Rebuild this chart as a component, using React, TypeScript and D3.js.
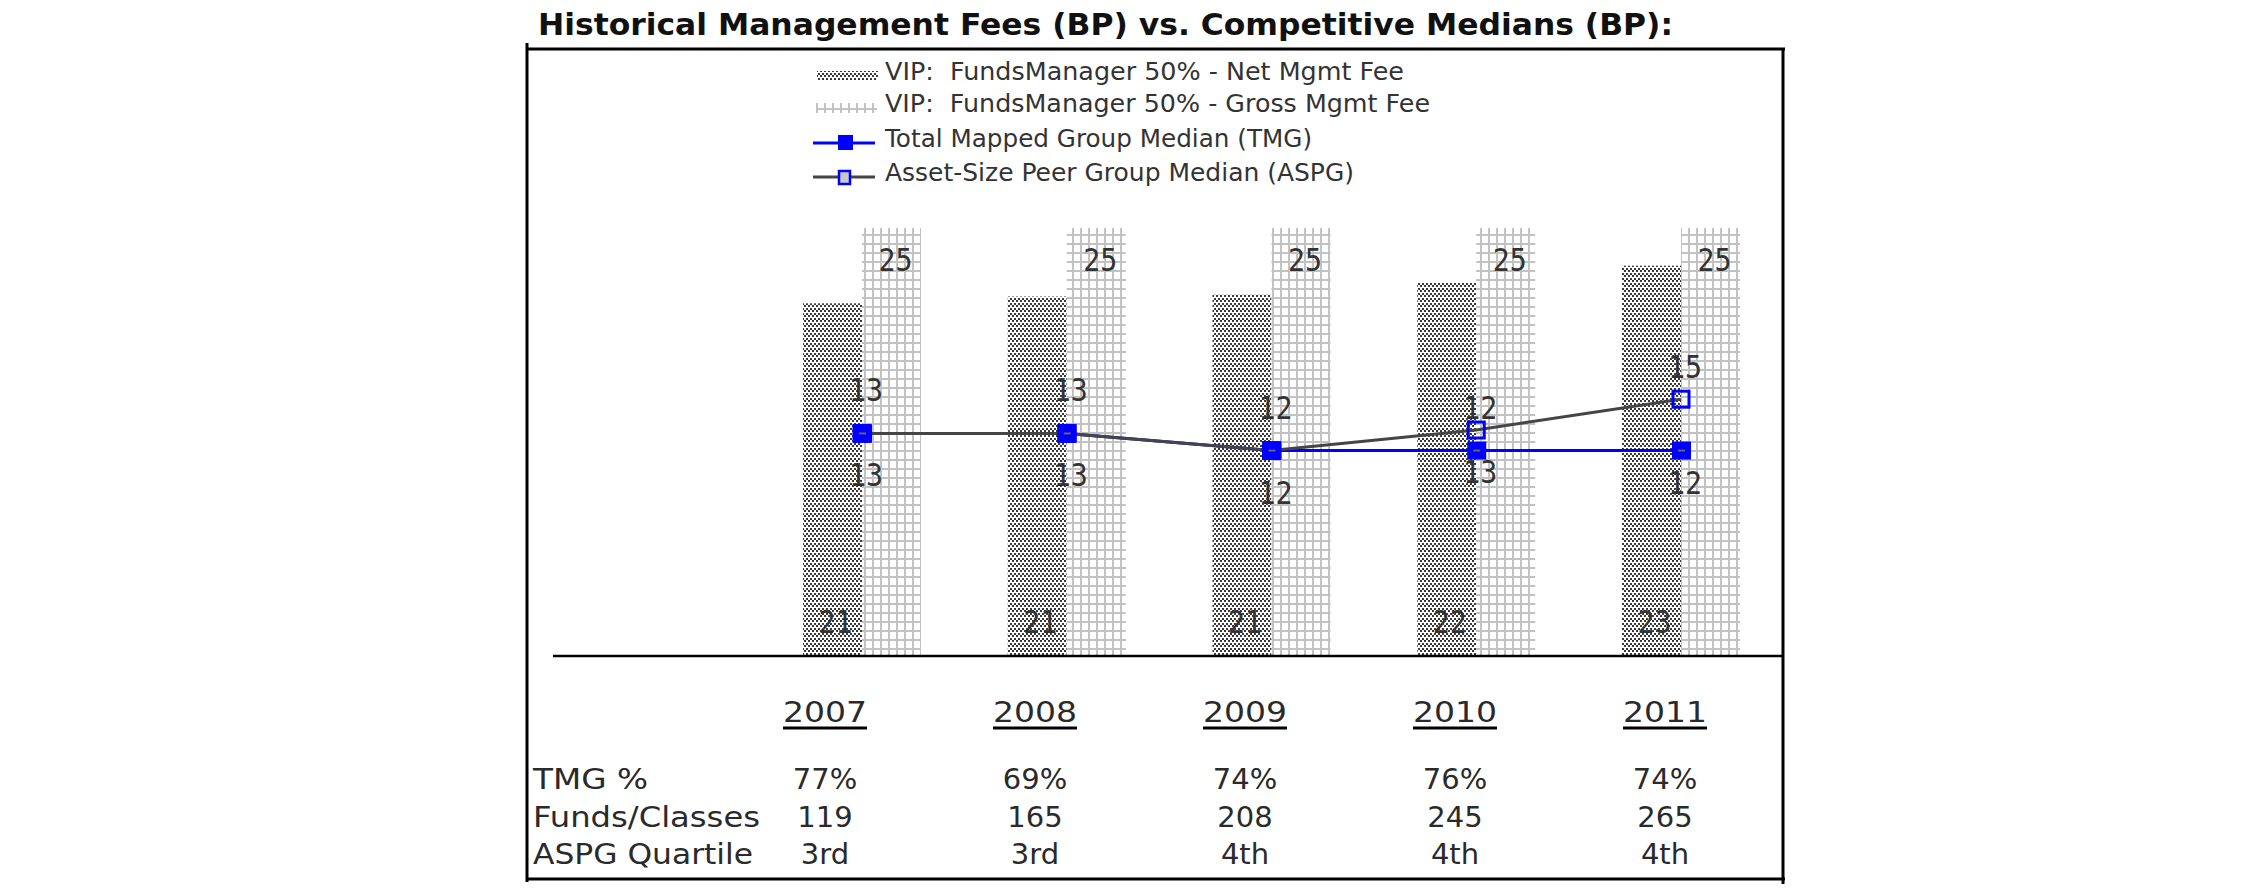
import React from 'react';
import * as d3 from 'd3';

// ---------- data ----------
const years = ['2007', '2008', '2009', '2010', '2011'];
const netFee = [20.6, 21.0, 21.1, 21.8, 22.8];
const grossFee = [25, 25, 25, 25, 25];
const tmgMedian = [13, 13, 12, 12, 12];
const aspgMedian = [13, 13, 12, 13.2, 15];
const tmgPct = ['77%', '69%', '74%', '76%', '74%'];
const fundsClasses = ['119', '165', '208', '245', '265'];
const aspgQuartile = ['3rd', '3rd', '4th', '4th', '4th'];
const rowLabels = ['TMG %', 'Funds/Classes', 'ASPG Quartile'];
const legendLabels = [
  'VIP:  FundsManager 50% - Net Mgmt Fee',
  'VIP:  FundsManager 50% - Gross Mgmt Fee',
  'Total Mapped Group Median (TMG)',
  'Asset-Size Peer Group Median (ASPG)',
];
const title = 'Historical Management Fees (BP) vs. Competitive Medians (BP):';

// ---------- layout ----------
const W = 2250;
const H = 895;
const frame = { left: 527, top: 49, right: 1783, bottom: 879 };
const axisY = 656;
const axisX0 = 553;

const TXT = '#2a2a2a';
const BLUE = '#0000ff';
const GRAY_LINE = '#454545';

type TP = {
  x: number; y: number; size: number; w?: number; anchor?: string; weight?: string;
  family?: string; fill?: string; children: React.ReactNode;
};
const T = ({ x, y, size, w, anchor = 'start', weight = 'normal', family = 'DejaVu Sans', fill = TXT, children }: TP) => (
  <text
    x={x}
    y={y}
    fontSize={size}
    fontFamily={family}
    fontWeight={weight}
    fill={fill}
    textAnchor={anchor}
    textLength={w}
    lengthAdjust={w ? 'spacingAndGlyphs' : undefined}
    style={{ whiteSpace: 'pre' }}
  >
    {children}
  </text>
);

export default function App() {
  const x = d3.scaleBand<string>().domain(years).range([803, 1740]).paddingInner(0.4237).paddingOuter(0);
  const sub = d3.scaleBand<string>().domain(['net', 'gross']).range([0, x.bandwidth()]);
  const y = d3.scaleLinear().domain([0, 25]).range([axisY, 228]);
  const col = d3.scalePoint<string>().domain(years).range([825, 1665]);

  const cx = (i: number) => (x(years[i]) as number) + x.bandwidth() / 2;
  const lineGen = d3
    .line<number>()
    .x((_, i) => cx(i))
    .y((d) => y(d));

  const labelFont = 'DejaVu Sans Mono';
  const lblSize = 32;
  const digitW = (s: string) => s.length * 17;

  const lineLabels: { text: string; x: number; y: number }[] = [];
  years.forEach((_, i) => {
    const t = tmgMedian[i];
    const a = aspgMedian[i];
    if (a - t > 2) {
      lineLabels.push({ text: String(Math.round(a)), x: cx(i) + 4, y: y(a) - 21 });
      lineLabels.push({ text: String(Math.round(t)), x: cx(i) + 4, y: y(t) + 43 });
    } else {
      lineLabels.push({ text: String(Math.round(t)), x: cx(i) + 4, y: y(t) - 32 });
      lineLabels.push({ text: String(Math.round(a)), x: cx(i) + 4, y: y(a) + 53 });
    }
  });

  const rowBaselines = [789, 827, 864];
  const rowData = [tmgPct, fundsClasses, aspgQuartile];
  const rowLabelW = [115, 227, 220];

  const legendX = 885;
  const legendBase = [80, 112, 147, 181];
  const legendW = [519, 545, 427, 469];

  return (
    <svg
      width={W}
      height={H}
      style={{ position: 'absolute', left: 0, top: 0, background: '#fff' }}
    >
      <defs>
        <pattern id="netPat" patternUnits="userSpaceOnUse" width={4} height={5}>
          <rect width={4} height={5} fill="#ffffff" />
          <rect x={0} y={0} width={2} height={2} fill="#3a3a3a" />
          <rect x={2} y={3} width={2} height={2} fill="#3a3a3a" />
        </pattern>
        <pattern id="grossPat" patternUnits="userSpaceOnUse" width={8} height={9}>
          <rect width={8} height={9} fill="#ffffff" />
          <rect x={0} y={0} width={2} height={9} fill="#c2c2c2" />
          <rect x={0} y={0} width={8} height={2} fill="#c2c2c2" />
        </pattern>
      </defs>
      <rect width={W} height={H} fill="#fff" />

      {/* title */}
      <T x={538} y={35} size={31} w={1135} weight="bold" fill="#111">{title}</T>

      {/* frame */}
      <g stroke="#000" strokeWidth={3} fill="none">
        <line x1={frame.left} y1={43} x2={frame.left} y2={frame.bottom + 3} />
        <line x1={frame.left} y1={frame.top} x2={frame.right + 2} y2={frame.top} />
        <line x1={frame.right} y1={frame.top} x2={frame.right} y2={frame.bottom + 5} />
        <line x1={frame.left} y1={frame.bottom} x2={frame.right + 2} y2={frame.bottom} />
      </g>

      {/* legend */}
      <rect x={817} y={71} width={61} height={9} fill="url(#netPat)" />
      <rect x={816} y={103} width={61} height={10} fill="url(#grossPat)" />
      <line x1={813} y1={143} x2={875} y2={143} stroke={BLUE} strokeWidth={3} />
      <rect x={838} y={135} width={15} height={15} fill={BLUE} />
      <line x1={813} y1={177} x2={875} y2={177} stroke={GRAY_LINE} strokeWidth={3} />
      <rect x={839} y={171} width={11} height={13} fill="#c8c8c8" stroke={BLUE} strokeWidth={2.5} />
      {legendLabels.map((l, i) => (
        <T key={l} x={legendX} y={legendBase[i]} size={24} w={legendW[i]} fill="#333">{l}</T>
      ))}

      {/* bars */}
      {years.map((yr, i) => (
        <g key={yr}>
          <rect
            x={(x(yr) as number) + (sub('net') as number)}
            y={y(netFee[i])}
            width={sub.bandwidth()}
            height={axisY - y(netFee[i])}
            fill="url(#netPat)"
          />
          <rect
            x={(x(yr) as number) + (sub('gross') as number)}
            y={y(grossFee[i])}
            width={sub.bandwidth()}
            height={axisY - y(grossFee[i])}
            fill="url(#grossPat)"
          />
        </g>
      ))}

      {/* bar labels */}
      {years.map((yr, i) => {
        const gx = (x(yr) as number) + (sub('gross') as number) + sub.bandwidth() / 2 + 4;
        const nx = (x(yr) as number) + (sub('net') as number) + sub.bandwidth() / 2 + 3;
        const gl = String(Math.round(grossFee[i]));
        const nl = String(Math.round(netFee[i]));
        return (
          <g key={'bl' + yr}>
            <T x={gx} y={y(grossFee[i]) + 43} size={lblSize} w={digitW(gl)} anchor="middle" family={labelFont} fill="#333">{gl}</T>
            <T x={nx} y={axisY - 23} size={lblSize} w={digitW(nl)} anchor="middle" family={labelFont} fill="#333">{nl}</T>
          </g>
        );
      })}

      {/* lines */}
      <path d={lineGen(tmgMedian) || ''} fill="none" stroke={BLUE} strokeWidth={3} />
      <path d={lineGen(aspgMedian) || ''} fill="none" stroke={GRAY_LINE} strokeWidth={3} />
      {aspgMedian.map((v, i) => (
        <rect key={'a' + i} x={cx(i) - 8} y={y(v) - 8} width={16} height={16} fill="none" stroke={BLUE} strokeWidth={3} />
      ))}
      {tmgMedian.map((v, i) => (
        <rect key={'t' + i} x={cx(i) - 9} y={y(v) - 9} width={19} height={18} fill={BLUE} />
      ))}
      {tmgMedian.map((v, i) => (
        <line key={'td' + i} x1={cx(i) - 3} x2={cx(i) + 4} y1={y(v)} y2={y(v)} stroke="#666" strokeWidth={2} />
      ))}

      {/* line labels */}
      {lineLabels.map((l, i) => (
        <T key={'ll' + i} x={l.x} y={l.y} size={lblSize} w={digitW(l.text)} anchor="middle" family={labelFont} fill="#333">{l.text}</T>
      ))}

      {/* category axis */}
      <line x1={axisX0} y1={axisY} x2={frame.right} y2={axisY} stroke="#000" strokeWidth={2.5} />

      {/* table */}
      {years.map((yr) => (
        <g key={'yr' + yr}>
          <T x={col(yr) as number} y={722} size={29} w={84} anchor="middle">{yr}</T>
          <line x1={(col(yr) as number) - 42} x2={(col(yr) as number) + 42} y1={728} y2={728} stroke="#000" strokeWidth={3} />
        </g>
      ))}
      {rowLabels.map((r, ri) => (
        <g key={r}>
          <T x={533} y={rowBaselines[ri]} size={29} w={rowLabelW[ri]}>{r}</T>
          {rowData[ri].map((v, i) => (
            <T key={r + i} x={col(years[i]) as number} y={rowBaselines[ri]} size={29} anchor="middle">{v}</T>
          ))}
        </g>
      ))}
    </svg>
  );
}
